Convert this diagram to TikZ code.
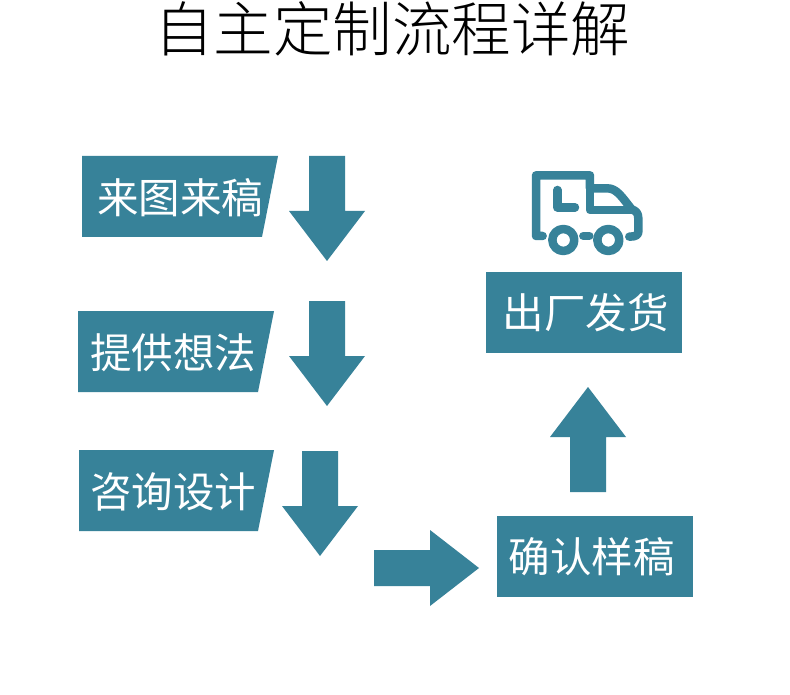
\documentclass[tikz,border=0pt]{standalone}
\usepackage{fontspec}
\setmainfont{Noto Sans CJK SC}
\newfontfamily\cjk{Noto Sans CJK SC}
\newfontfamily\cjklight{Noto Sans CJK SC Light}
\definecolor{teal1}{HTML}{378299}
\tikzset{
  blockshape/.style={fill=teal1,draw=none},
  labeltext/.style={text=white,font=\cjk\fontsize{41.5}{41.5}\selectfont,inner sep=0pt},
  titletext/.style={text=black,font=\cjklight\fontsize{59.5}{59.5}\selectfont,inner sep=0pt},
  truckline/.style={draw=teal1,line width=8.5pt,line cap=round,line join=round}
}
\begin{document}
\begin{tikzpicture}[x=1pt,y=-1pt]
\useasboundingbox (0,0) rectangle (790,695);
\fill[white] (0,0) rectangle (790,695);
\node[titletext] (title) at (392,28.5) {自主定制流程详解};
% label shapes
\fill[blockshape] (82,156) -- (278,156) -- (262,237) -- (82,237) -- cycle;
\fill[blockshape] (78,311) -- (274,311) -- (258,392) -- (78,392) -- cycle;
\fill[blockshape] (79,450) -- (274,450) -- (258,531) -- (79,531) -- cycle;
\fill[blockshape] (486,272) rectangle (682,353);
\fill[blockshape] (497,516) rectangle (693,597);
\node[labeltext] (a) at (180,198) {来图来稿};
\node[labeltext] (b) at (173,353) {提供想法};
\node[labeltext] (c) at (173,492) {咨询设计};
\node[labeltext] (d) at (585.5,313) {出厂发货};
\node[labeltext] (e) at (591.5,557) {确认样稿};
% block arrows
\fill[blockshape] (309,156) -- (345,156) -- (345,211) -- (365,211) -- (327,261) -- (289,211) -- (309,211) -- cycle;
\fill[blockshape] (309,301) -- (345,301) -- (345,356) -- (365,356) -- (327,406) -- (289,356) -- (309,356) -- cycle;
\fill[blockshape] (302,451) -- (338,451) -- (338,506) -- (358,506) -- (320,556) -- (282,506) -- (302,506) -- cycle;
\fill[blockshape] (374,550) -- (430,550) -- (430,530) -- (479,568) -- (430,606) -- (430,586) -- (374,586) -- cycle;
\fill[blockshape] (570,492) -- (606,492) -- (606,437) -- (626,437) -- (588,387) -- (550,437) -- (570,437) -- cycle;
% truck
\begin{scope}[shift={(500,150)},x=0.3333pt,y=-0.3333pt]
\draw[truckline] (128,258) -- (108,258) -- (108,76) -- (270,76) -- (270,115) -- (322,115)
  .. controls (350,115) and (365,140) .. (395,178) .. controls (408,182) and (415,190) .. (415,205)
  -- (415,245) .. controls (415,255) and (408,260) .. (388,260);
\draw[truckline] (270,115) -- (270,180) -- (395,180);
\draw[truckline] (172,120) -- (172,172) -- (225,172);
\draw[truckline] (250,258) -- (268,258);
\draw[truckline] (190,270) circle (33);
\draw[truckline] (325,270) circle (33);
\end{scope}
\end{tikzpicture}
\end{document}
